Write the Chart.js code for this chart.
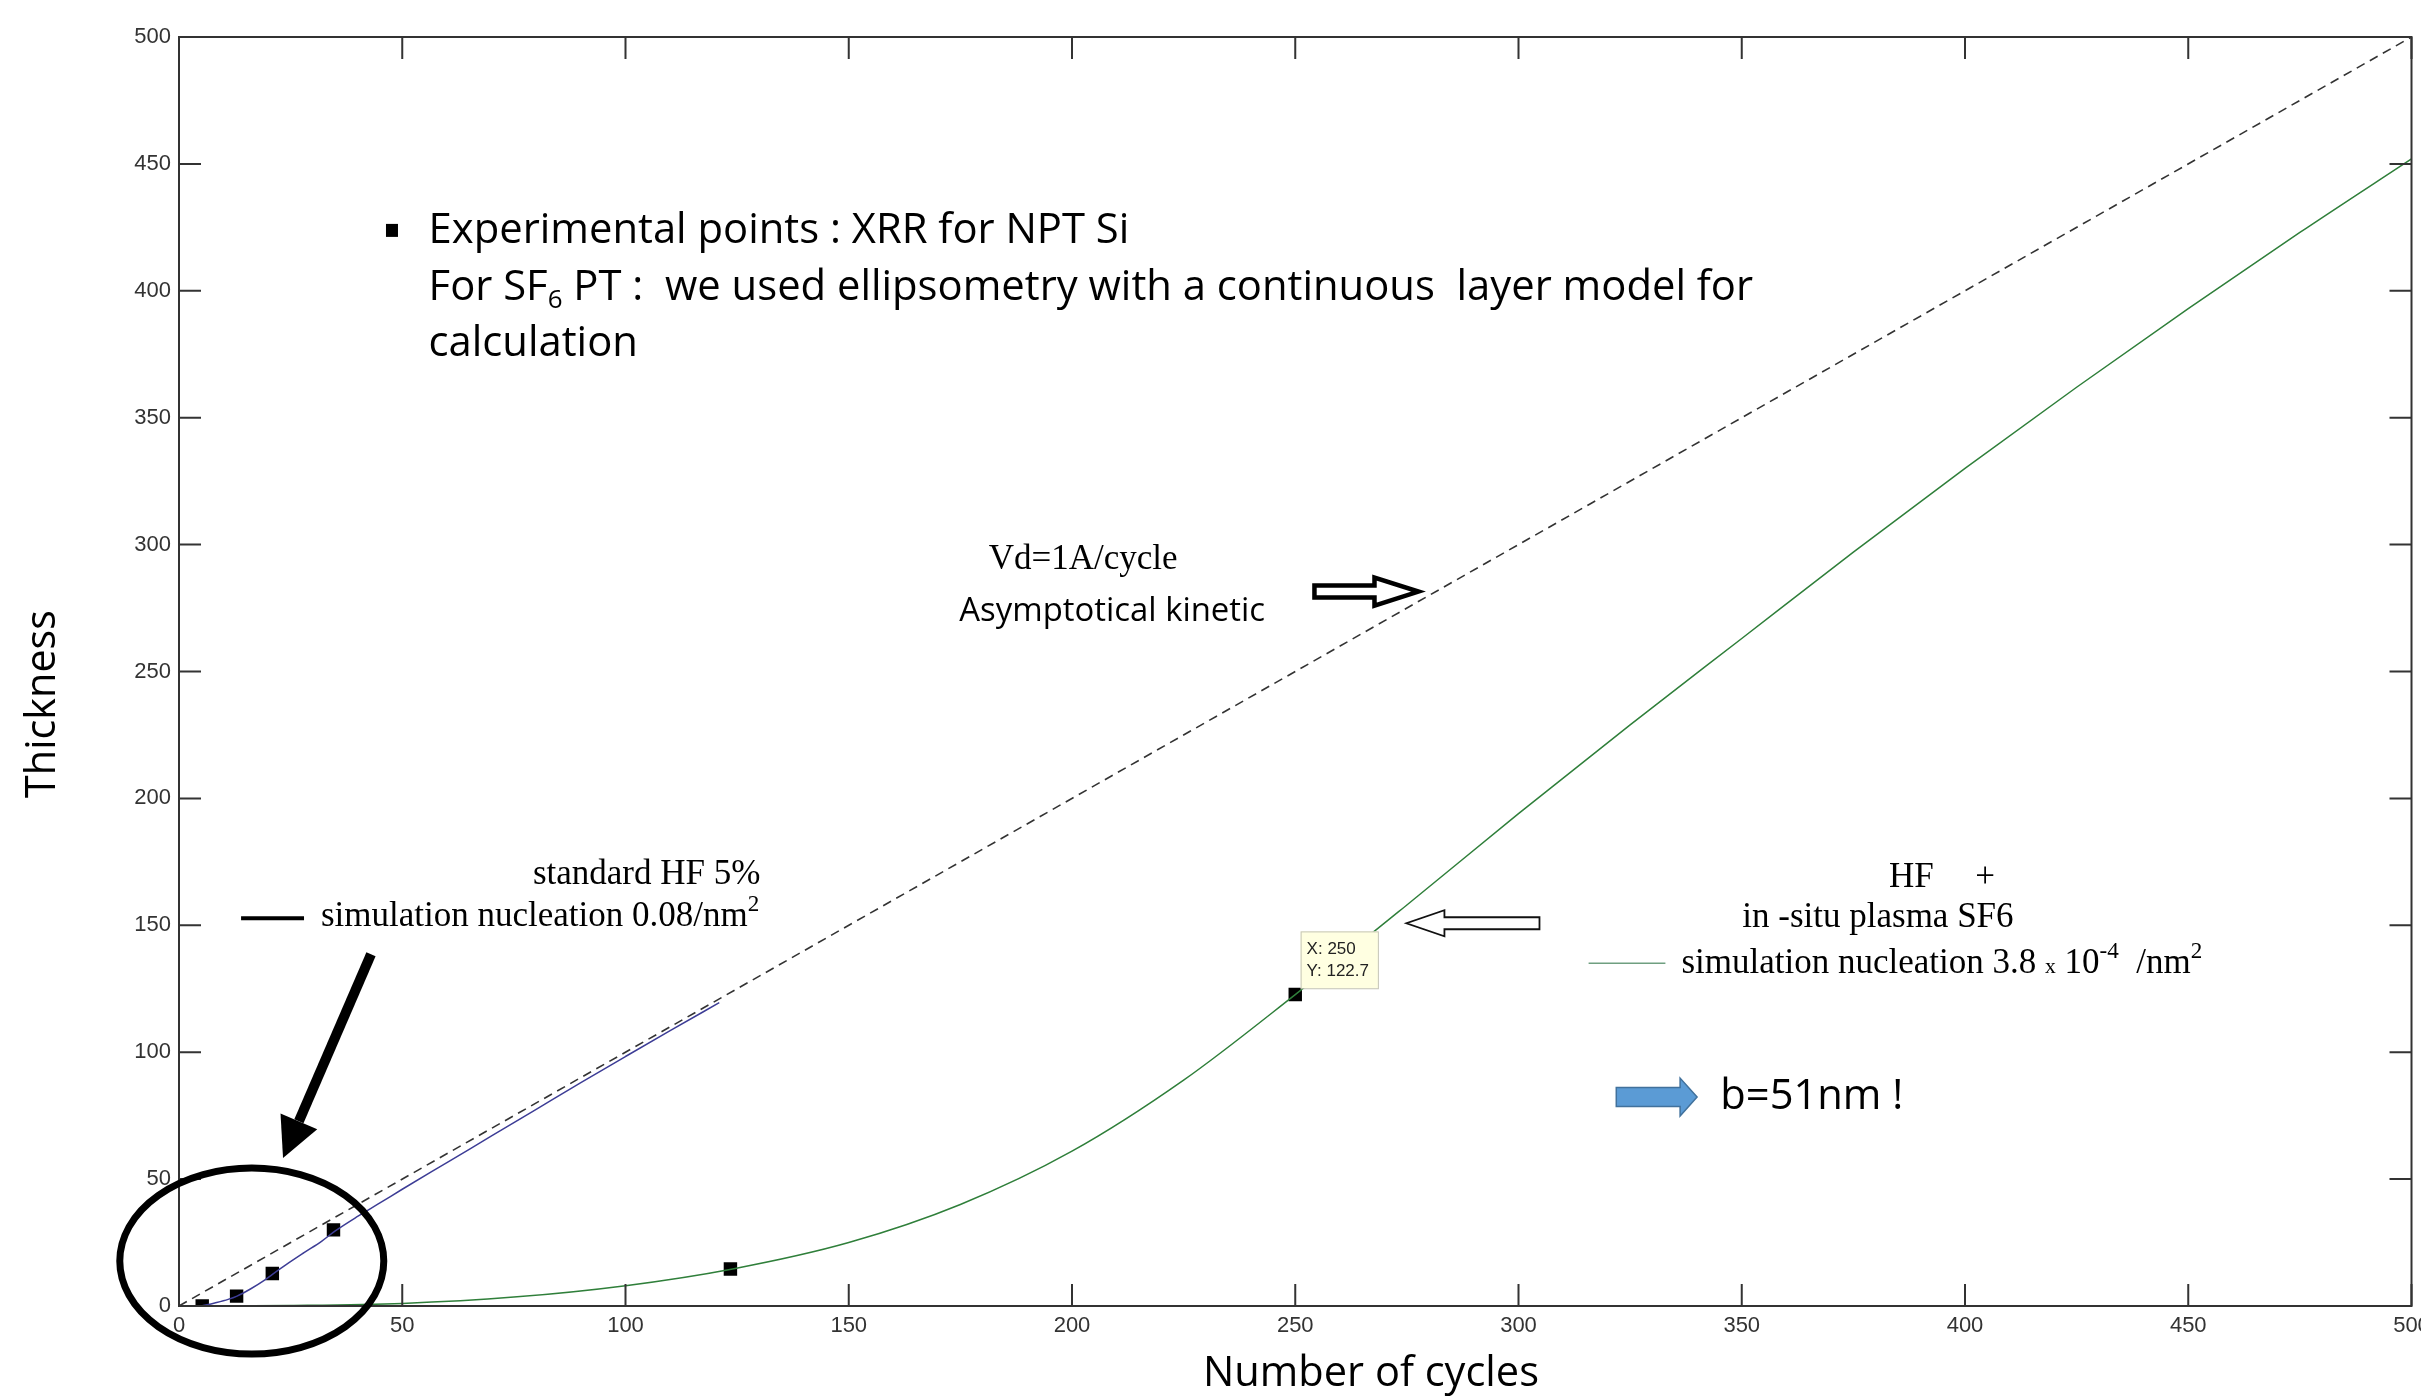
<!DOCTYPE html>
<html><head><meta charset="utf-8">
<script src="https://cdn.jsdelivr.net/npm/chart.js@4.4.1/dist/chart.umd.min.js"></script>
<style>html,body{margin:0;padding:0;background:#fff}#wrap{width:2421px;height:1398px;position:relative}</style>
</head><body><div id="wrap"><canvas id="c"></canvas></div>
<script>
// ---- data ----
const axisTicks = [0,50,100,150,200,250,300,350,400,450,500];
const asymX = [0,500];
const asymY = [0,500];
const hfSimX = [5,8,11,13,16,19,21,24,28,32,35,40,45,50,60,70,80,90,100,110,121];
const hfSimY = [0,1.2,2.6,3.9,6.7,10,12.6,16.3,21,25.6,29.6,35.3,40.6,46,56.5,67,77.5,88,98.3,108.5,119.5];
const sf6SimX = [0,25,50,75,100,124,150,175,200,225,250,275,300,325,350,375,400,425,450,475,500];
const sf6SimY = [0,0.2,1,3.5,8,14.6,25,40,61,89,122.7,158,194,229,263,297,330,362,393,423,452];
const nptExpX = [5.2,12.9,20.9,34.6];
const nptExpY = [0,3.9,12.8,30];
const sf6ExpX = [123.5,250];
const sf6ExpY = [14.6,122.7];

const pts = (xs, ys) => xs.map((v, i) => ({x: v, y: ys[i]}));
const SANS = "'Open Sans', 'DejaVu Sans', sans-serif";
const SERIF = "'Liberation Serif', 'DejaVu Serif', serif";
const TICKF = "'Liberation Sans Narrow', 'Liberation Sans', sans-serif";

function fitSize(ctx, text, family, target) {
  ctx.font = `100px ${family}`;
  return 100 * target / ctx.measureText(text).width;
}
function txt(ctx, s, x, y, size, family, align, color) {
  ctx.font = `${size}px ${family}`;
  ctx.textAlign = align || 'left';
  ctx.textBaseline = 'middle';
  ctx.fillStyle = color || '#000';
  ctx.fillText(s, x, y);
  return ctx.measureText(s).width;
}
// draws a sequence of [text, kind] pieces; kind: 'n' normal, 'sup', 'sub', 'small'
function runs(ctx, pieces, x, y, size, family) {
  let cx = x;
  for (const [s, k] of pieces) {
    let sz = size, dy = 0;
    if (k === 'sup') { sz = size * 0.66; dy = -size * 0.34; }
    if (k === 'sub') { sz = size * 0.62; dy = size * 0.3; }
    if (k === 'small') { sz = size * 0.62; dy = size * 0.12; }
    cx += txt(ctx, s, cx, y + dy, sz, family, 'left');
  }
}
function blockArrow(ctx, x0, x1, y, hl, hh, bh, fill, stroke, lw) {
  const d = Math.sign(x1 - x0);
  const hb = x1 - d * hl;
  ctx.beginPath();
  ctx.moveTo(x0, y - bh); ctx.lineTo(hb, y - bh); ctx.lineTo(hb, y - hh);
  ctx.lineTo(x1, y); ctx.lineTo(hb, y + hh); ctx.lineTo(hb, y + bh); ctx.lineTo(x0, y + bh);
  ctx.closePath();
  ctx.fillStyle = fill; ctx.fill();
  ctx.lineWidth = lw; ctx.strokeStyle = stroke; ctx.lineJoin = 'miter'; ctx.stroke();
}

const deco = {
  id: 'deco',
  afterDraw(chart) {
    const c = chart.ctx, a = chart.chartArea, xs = chart.scales.x, ys = chart.scales.y;
    const X = v => xs.getPixelForValue(v), Y = v => ys.getPixelForValue(v);
    c.save();
    // frame + inward ticks (MATLAB style)
    c.strokeStyle = '#333'; c.lineWidth = 2;
    c.strokeRect(a.left, a.top, a.right - a.left, a.bottom - a.top);
    c.beginPath();
    xs.ticks.forEach(t => { const p = X(t.value); c.moveTo(p, a.bottom); c.lineTo(p, a.bottom - 22); c.moveTo(p, a.top); c.lineTo(p, a.top + 22); });
    ys.ticks.forEach(t => { const p = Y(t.value); c.moveTo(a.left, p); c.lineTo(a.left + 22, p); c.moveTo(a.right, p); c.lineTo(a.right - 22, p); });
    c.stroke();

    // axis titles
    const sT = fitSize(c, 'Thickness', SANS, 188);
    c.save(); c.translate(43, 704); c.rotate(-Math.PI / 2);
    txt(c, 'Thickness', 0, 0, sT, SANS, 'center'); c.restore();
    const sN = fitSize(c, 'Number of cycles', SANS, 336);
    txt(c, 'Number of cycles', 1371, 1374, sN, SANS, 'center');

    // experimental points note
    const s1 = fitSize(c, 'Experimental points : XRR for NPT Si', SANS, 701);
    c.fillStyle = '#000';
    c.fillRect(X(47.7) - 6, Y(423.6) - 7, 12, 13);
    txt(c, 'Experimental points : XRR for NPT Si', X(55.9), Y(423.6), s1, SANS);
    runs(c, [['For SF', 'n'], ['6', 'sub'], [' PT :  we used ellipsometry with a continuous  layer model for', 'n']], X(55.9), Y(401.2), s1, SANS);
    txt(c, 'calculation', X(55.9), Y(379.1), s1, SANS);

    // asymptote annotation
    txt(c, 'Vd=1A/cycle', X(202.5), Y(294.1), 35, SERIF, 'center');
    const sA = fitSize(c, 'Asymptotical kinetic', SANS, 306);
    txt(c, 'Asymptotical kinetic', X(209), Y(273.6), sA, SANS, 'center');
    blockArrow(c, X(254.3), X(277.6), Y(281.5), 44, 14, 6, '#fff', '#000', 4.5);

    // standard HF legend
    txt(c, 'standard HF 5%', X(130.2), Y(169.7), 35, SERIF, 'right');
    runs(c, [['simulation nucleation 0.08/nm', 'n'], ['2', 'sup']], X(31.8), Y(153.5), 35, SERIF);
    c.strokeStyle = '#000'; c.lineWidth = 4;
    c.beginPath(); c.moveTo(X(13.9), Y(152.8)); c.lineTo(X(28), Y(152.8)); c.stroke();

    // thick black arrow to the circled region
    {
      const x0 = X(43), y0 = Y(138.6), x1 = X(23.3), y1 = Y(58.3);
      const ang = Math.atan2(y1 - y0, x1 - x0), hl = 40, hw = 20;
      const bx = x1 - hl * Math.cos(ang), by = y1 - hl * Math.sin(ang);
      c.lineWidth = 10; c.lineCap = 'butt'; c.strokeStyle = '#000';
      c.beginPath(); c.moveTo(x0, y0); c.lineTo(bx, by); c.stroke();
      c.beginPath();
      c.moveTo(x1, y1);
      c.lineTo(bx + hw * Math.sin(ang), by - hw * Math.cos(ang));
      c.lineTo(bx - hw * Math.sin(ang), by + hw * Math.cos(ang));
      c.closePath(); c.fillStyle = '#000'; c.fill();
    }
    // ellipse
    c.lineWidth = 7; c.strokeStyle = '#000';
    c.beginPath(); c.ellipse(X(16.3), Y(17.7), 132, 93, 0, 0, 2 * Math.PI); c.stroke();

    // data tip box
    {
      const l = X(251.2), t = Y(147.6), r = X(268.5), b = Y(125.2);
      c.fillStyle = '#ffffe1'; c.fillRect(l, t, r - l, b - t);
      c.strokeStyle = '#c4c4b4'; c.lineWidth = 1; c.strokeRect(l + 0.5, t + 0.5, r - l, b - t);
      txt(c, 'X: 250', l + 6, t + (b - t) * 0.32, 17, TICKF, 'left', '#222');
      txt(c, 'Y: 122.7', l + 6, t + (b - t) * 0.7, 17, TICKF, 'left', '#222');
    }
    // hollow arrow pointing to green curve
    blockArrow(c, X(304.7), X(274.9), Y(150.8), 38, 13, 6, '#fff', '#111', 1.8);

    // SF6 legend
    txt(c, 'HF', X(383), Y(168.9), 35, SERIF);
    txt(c, '+', X(404.5), Y(168.9), 35, SERIF, 'center');
    txt(c, 'in -situ plasma SF6', X(380.5), Y(152.8), 35, SERIF, 'center');
    runs(c, [['simulation nucleation 3.8 ', 'n'], ['x', 'small'], [' 10', 'n'], ['-4', 'sup'], ['  /nm', 'n'], ['2', 'sup']], X(336.5), Y(135), 35, SERIF);
    c.strokeStyle = '#6f9f80'; c.lineWidth = 1.5;
    c.beginPath(); c.moveTo(X(315.7), Y(135)); c.lineTo(X(332.9), Y(135)); c.stroke();

    // blue arrow + b=51nm
    blockArrow(c, X(321.9), X(340), Y(82.3), 17, 19, 9.5, '#5b9bd5', '#41719c', 1.5);
    const sB = fitSize(c, 'b=51nm !', SANS, 183);
    txt(c, 'b=51nm !', X(345.2), Y(82.3), sB, SANS);
    c.restore();
  }
};

const tickFont = {family: TICKF, size: 22};
new Chart(document.getElementById('c'), {
  type: 'scatter',
  data: {datasets: [
    {label: 'Vd=1A/cycle', data: pts(asymX, asymY), showLine: true, borderColor: '#333', borderWidth: 1.6, borderDash: [9, 6], pointRadius: 0},
    {label: 'standard HF 5% simulation', data: pts(hfSimX, hfSimY), showLine: true, borderColor: '#3d3d96', borderWidth: 1.5, pointRadius: 0, cubicInterpolationMode: 'monotone'},
    {label: 'HF + in-situ plasma SF6 simulation', data: pts(sf6SimX, sf6SimY), showLine: true, borderColor: '#2f7f3a', borderWidth: 1.5, pointRadius: 0, cubicInterpolationMode: 'monotone'},
    {label: 'XRR NPT Si', data: pts(nptExpX, nptExpY), pointStyle: 'rect', pointRadius: 9.5, backgroundColor: '#000', borderWidth: 0},
    {label: 'ellipsometry SF6 PT', data: pts(sf6ExpX, sf6ExpY), pointStyle: 'rect', pointRadius: 9.5, backgroundColor: '#000', borderWidth: 0}
  ]},
  options: {
    responsive: true, maintainAspectRatio: false, animation: false, events: [],
    layout: {padding: {top: 37, right: 7, left: 0, bottom: 0}},
    plugins: {legend: {display: false}, tooltip: {enabled: false}},
    scales: {
      x: {type: 'linear', min: 0, max: 500,
        afterBuildTicks: s => { s.ticks = axisTicks.map(v => ({value: v})); },
        ticks: {font: tickFont, color: '#333', padding: 7, maxRotation: 0, autoSkip: false, callback: v => String(v)},
        grid: {display: false, drawTicks: false}, border: {display: false},
        afterFit: s => { s.height = 92; s.paddingLeft = 0; s.paddingRight = 0; }},
      y: {type: 'linear', min: 0, max: 500,
        afterBuildTicks: s => { s.ticks = axisTicks.map(v => ({value: v})); },
        ticks: {font: tickFont, color: '#333', padding: 8, autoSkip: false, callback: v => String(v)},
        grid: {display: false, drawTicks: false}, border: {display: false},
        afterFit: s => { s.width = 179; s.paddingTop = 0; s.paddingBottom = 0; }}
    }
  },
  plugins: [deco]
});
</script></body></html>
